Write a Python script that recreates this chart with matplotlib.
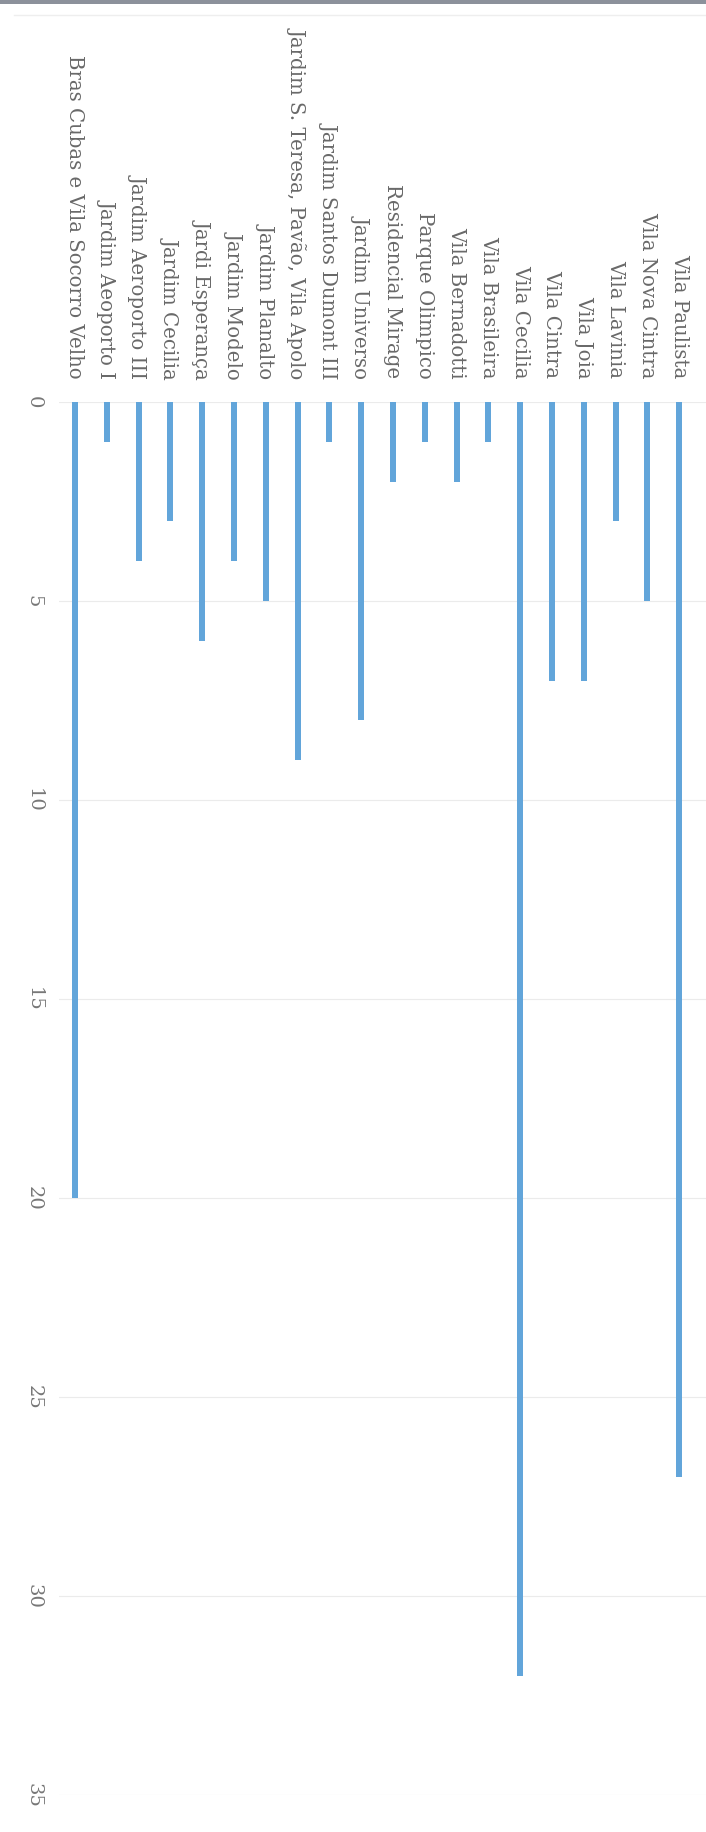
import matplotlib.pyplot as plt
from matplotlib.patches import Rectangle
from matplotlib.lines import Line2D

# neighbourhoods, left to right as drawn (chart is turned a quarter turn)
bairros = [
    "Bras Cubas e Vila Socorro Velho",
    "Jardim Aeoporto I",
    "Jardim Aeroporto III",
    "Jardim Cecilia",
    "Jardi Esperança",
    "Jardim Modelo",
    "Jardim Planalto",
    "Jardim S. Teresa, Pavão, Vila Apolo",
    "Jardim Santos Dumont III",
    "Jardim Universo",
    "Residencial Mirage",
    "Parque Olimpico",
    "Vila Bernadotti",
    "Vila Brasileira",
    "Vila Cecilia",
    "Vila Cintra",
    "Vila Joia",
    "Vila Lavinia",
    "Vila Nova Cintra",
    "Vila Paulista",
]
valores = [20, 1, 4, 3, 6, 4, 5, 9, 1, 8, 2, 1, 2, 1, 32, 7, 7, 3, 5, 27]
ticks_valor = [0, 5, 10, 15, 20, 25, 30, 35]

W, H = 706, 1832
fig = plt.figure(figsize=(W / 100, H / 100), dpi=100)
fig.patch.set_facecolor("white")

# scan edge at the top and the faint chart frame line
fig.add_artist(Rectangle((0, 1 - 4 / H), 1, 4 / H, transform=fig.transFigure,
                         color="#8c919b", lw=0))
fig.add_artist(Line2D([0.02, 1], [1 - 15 / H, 1 - 15 / H], transform=fig.transFigure,
                      color="#eeeeee", lw=1))

left, top, bottom = 59, 402, 1795
ax = fig.add_axes([left / W, 1 - bottom / H, 1 - left / W, (bottom - top) / H])

pos = list(range(len(bairros)))
ax.bar(pos, valores, width=0.19, color="#62A5DA", zorder=3)

ax.set_xlim(-0.5, 19.84)
ax.set_ylim(35, 0)
ax.set_yticks(ticks_valor)
ax.set_xticks(pos)
ax.set_xticklabels(bairros)

ax.xaxis.tick_top()
ax.tick_params(axis="x", length=0, pad=17, labelsize=14.2, labelcolor="#696969")
ax.tick_params(axis="y", length=0, pad=12, labelsize=14, labelcolor="#777777")
for t in ax.get_xticklabels():
    t.set_rotation(-90)
    t.set_ha("center")
    t.set_va("bottom")
    t.set_family("DejaVu Serif")
for t in ax.get_yticklabels():
    t.set_rotation(-90)
    t.set_ha("right")
    t.set_va("center")
    t.set_family("DejaVu Serif")

ax.yaxis.grid(True, color="#ebebeb", lw=0.8)
ax.set_axisbelow(True)
for s in ax.spines.values():
    s.set_visible(False)

fig.savefig("out.png", dpi=100)
